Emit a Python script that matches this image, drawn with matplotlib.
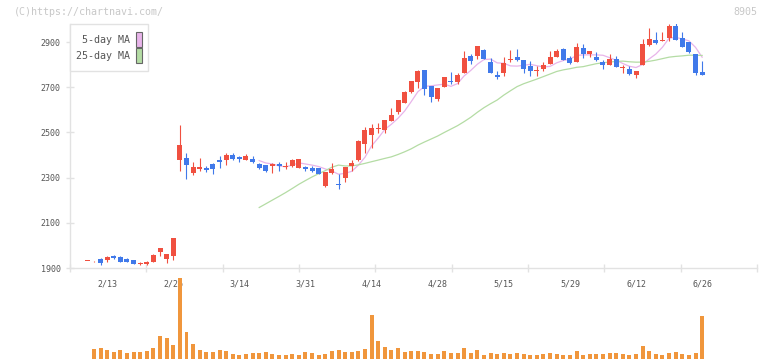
"""
Candlestick chart of 8905 (Feb-Jun) with 5/25-day moving averages and volume.
"""
import numpy as np
import pandas as pd
import matplotlib
matplotlib.use("Agg")
import matplotlib.pyplot as plt
from matplotlib.patches import Rectangle

# daily OHLC (yen)
opens = [1930, 1929, 1938, 1937, 1953, 1949, 1940, 1934, 1916, 1919,
         1927, 1970, 1940, 1953, 2380, 2387, 2322, 2340, 2343, 2362,
         2378, 2380, 2401, 2393, 2380, 2383, 2362, 2356, 2350, 2359,
         2347, 2350, 2344, 2349, 2343, 2344, 2263, 2319, 2272, 2297,
         2350, 2376, 2448, 2488, 2516, 2510, 2550, 2590, 2632, 2679,
         2725, 2777, 2706, 2650, 2703, 2728, 2725, 2761, 2839, 2839,
         2866, 2810, 2755, 2765, 2822, 2835, 2822, 2795, 2770, 2781,
         2804, 2835, 2870, 2830, 2814, 2875, 2848, 2835, 2812, 2799,
         2826, 2786, 2781, 2755, 2799, 2888, 2910, 2903, 2919, 2972,
         2919, 2901, 2848, 2768]
highs = [1930, 1933, 1944, 1955, 1956, 1953, 1944, 1934, 1925, 1930,
         1961, 1987, 1961, 2032, 2534, 2410, 2369, 2387, 2353, 2365,
         2396, 2407, 2410, 2396, 2405, 2395, 2365, 2356, 2365, 2367,
         2370, 2383, 2383, 2353, 2352, 2344, 2325, 2365, 2315, 2348,
         2380, 2465, 2525, 2537, 2541, 2555, 2608, 2644, 2684, 2728,
         2777, 2777, 2706, 2697, 2746, 2768, 2764, 2862, 2848, 2884,
         2870, 2830, 2773, 2835, 2866, 2870, 2822, 2817, 2795, 2812,
         2861, 2870, 2875, 2839, 2897, 2892, 2861, 2857, 2821, 2848,
         2839, 2799, 2795, 2772, 2915, 2964, 2946, 2946, 2981, 2986,
         2946, 2901, 2848, 2817]
lows = [1930, 1926, 1915, 1928, 1941, 1928, 1925, 1918, 1913, 1913,
        1927, 1953, 1922, 1934, 2330, 2296, 2310, 2330, 2327, 2318,
        2344, 2358, 2376, 2371, 2378, 2365, 2340, 2327, 2322, 2331,
        2336, 2346, 2344, 2331, 2325, 2318, 2258, 2316, 2251, 2279,
        2328, 2374, 2408, 2430, 2497, 2497, 2550, 2583, 2632, 2676,
        2697, 2667, 2636, 2641, 2703, 2716, 2716, 2761, 2804, 2826,
        2827, 2765, 2737, 2752, 2813, 2817, 2761, 2752, 2752, 2774,
        2804, 2835, 2821, 2802, 2814, 2830, 2836, 2817, 2781, 2799,
        2790, 2764, 2755, 2741, 2799, 2884, 2892, 2903, 2906, 2910,
        2879, 2850, 2755, 2755]
closes = [1930, 1930, 1922, 1949, 1944, 1928, 1928, 1918, 1922, 1928,
          1958, 1987, 1961, 2032, 2445, 2358, 2346, 2346, 2334, 2340,
          2370, 2402, 2384, 2384, 2396, 2370, 2343, 2331, 2362, 2353,
          2350, 2378, 2383, 2338, 2328, 2318, 2325, 2338, 2266, 2348,
          2363, 2462, 2512, 2519, 2519, 2555, 2577, 2644, 2679, 2728,
          2773, 2694, 2659, 2697, 2746, 2724, 2755, 2830, 2817, 2884,
          2827, 2765, 2747, 2808, 2826, 2822, 2782, 2770, 2777, 2799,
          2834, 2861, 2821, 2808, 2879, 2848, 2861, 2821, 2799, 2826,
          2790, 2790, 2759, 2772, 2892, 2915, 2897, 2910, 2972, 2910,
          2879, 2857, 2765, 2755]
# volume (relative units)
volumes = [0, 100, 110, 90, 70, 90, 60, 70, 70, 80,
           110, 230, 210, 140, 810, 270, 150, 90, 70, 70,
           90, 80, 50, 40, 50, 60, 60, 70, 50, 40,
           40, 50, 40, 70, 60, 40, 50, 80, 90, 70,
           70, 80, 100, 440, 180, 120, 90, 110, 70, 80,
           80, 70, 50, 50, 80, 60, 60, 110, 60, 90,
           40, 60, 50, 60, 50, 60, 50, 40, 40, 50,
           60, 50, 40, 40, 80, 40, 50, 50, 50, 60,
           60, 50, 40, 50, 130, 80, 50, 40, 60, 70,
           50, 40, 60, 430]
date_pos = [3, 13, 23, 33, 43, 53, 63, 73, 83, 93]
date_labels = ["2/13", "2/26", "3/14", "3/31", "4/14", "4/28",
               "5/15", "5/29", "6/12", "6/26"]
price_ticks = [1900, 2100, 2300, 2500, 2700, 2900]
ma_start = 26

UP = "#f05040"
DOWN = "#4079ea"
VOL = "#f0963c"
MA5 = "#e8b4ea"
MA25 = "#b4dca4"
GRID = "#e2e2e2"
TXT = "#555555"
W, H = 772, 361

plt.rcParams['font.family'] = ['DejaVu Sans Mono']


def px(x0, y0, w, h):
    # pixel box (top-left origin) -> figure fraction rect
    return [x0 / W, 1 - (y0 + h) / H, w / W, h / H]


fig = plt.figure(figsize=(W / 100, H / 100), dpi=100)
ax = fig.add_axes(px(70, 24, 687, 244))

n = len(closes)
x = np.arange(n)
o = np.array(opens)
c = np.array(closes)
colors = [UP if cc >= oo else DOWN for oo, cc in zip(o, c)]

ax.vlines(x, lows, highs, color=colors, linewidth=0.8, zorder=2)
body_low = np.minimum(o, c)
body_h = np.maximum(np.abs(c - o), 4)
ax.bar(x, body_h, bottom=body_low, width=0.76, color=colors, linewidth=0, zorder=3)

s = pd.Series(closes, dtype=float)
ma5 = s.rolling(5).mean()
ma25 = s.rolling(25).mean()
ax.plot(x[ma_start:], ma5[ma_start:], color=MA5, linewidth=0.9, zorder=1)
ax.plot(x[ma_start:], ma25[ma_start:], color=MA25, linewidth=0.9, zorder=1)

xmin, xmax = -2.62, 101.3
ax.set_xlim(xmin, xmax)
ax.set_ylim(1900, 2980)

for side in ["top", "right"]:
    ax.spines[side].set_visible(False)
for side in ["left", "bottom"]:
    ax.spines[side].set_color(GRID)
    ax.spines[side].set_linewidth(1.0)

ax.set_yticks(price_ticks)
ax.set_yticklabels([str(p) for p in price_ticks])
ax.tick_params(axis="y", direction="inout", length=5.8, width=1.0, color=GRID,
               labelsize=6, labelcolor=TXT, pad=3.8)
ax.set_xticks(date_pos)
ax.set_xticklabels(date_labels)
ax.set_xticks(np.linspace(xmin, xmax, 10), minor=True)
ax.tick_params(axis="x", which="major", length=0, labelsize=6, labelcolor=TXT, pad=8)
ax.tick_params(axis="x", which="minor", direction="inout", length=5.8, width=1.0, color=GRID)

# legend box
fig.patches.append(Rectangle((70 / W, 1 - 71 / H), 78 / W, 47 / H, transform=fig.transFigure,
                             facecolor="white", edgecolor=GRID, linewidth=1.0, zorder=5))
fig.patches.append(Rectangle((136 / W, 1 - 47 / H), 6 / W, 15 / H, transform=fig.transFigure,
                             facecolor=MA5, edgecolor="#666666", linewidth=0.8, zorder=6))
fig.patches.append(Rectangle((136 / W, 1 - 63 / H), 6 / W, 15 / H, transform=fig.transFigure,
                             facecolor=MA25, edgecolor="#666666", linewidth=0.8, zorder=6))
fig.text(130 / W, 1 - 40 / H, "5-day MA", ha="right", va="center", fontsize=7.2, color=TXT, zorder=7)
fig.text(130 / W, 1 - 56 / H, "25-day MA", ha="right", va="center", fontsize=7.2, color=TXT, zorder=7)

fig.text(14 / W, 1 - 12 / H, "(C)https://chartnavi.com/", ha="left", va="center",
         fontsize=7.2, color="#c8c8c8")
fig.text(757 / W, 1 - 12 / H, "8905", ha="right", va="center", fontsize=7.2, color="#c8c8c8")

# volume panel, drawn over the date labels like the original
vax = fig.add_axes(px(70, 278, 687, 81))
vax.patch.set_alpha(0)
vax.bar(x, volumes, width=0.6, color=VOL, linewidth=0)
vax.set_xlim(xmin, xmax)
vax.set_ylim(0, max(volumes))
vax.axis("off")

fig.savefig("out.png", dpi=100)
